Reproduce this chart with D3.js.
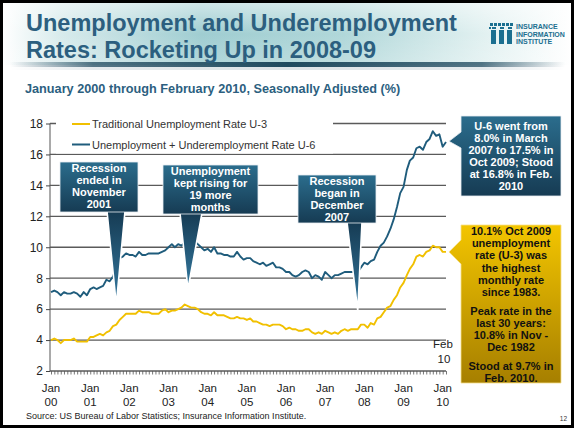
<!DOCTYPE html>
<html>
<head>
<meta charset="utf-8">
<script src="https://cdn.jsdelivr.net/npm/d3@7"></script>
<style>
  body { margin: 0; background: #fff; }
  svg { display: block; font-family: "Liberation Sans", Arial, sans-serif; }
</style>
</head>
<body>
<svg id="chart" width="576" height="430"></svg>
<script>
// monthly rates, Jan 2000 .. Feb 2010 (%)
const u3 = [
  4.0,4.1,4.0,3.8,4.0,4.0,4.0,4.1,3.9,3.9,3.9,3.9,
  4.2,4.2,4.3,4.4,4.3,4.5,4.6,4.9,5.0,5.3,5.5,5.7,
  5.7,5.7,5.7,5.9,5.8,5.8,5.8,5.7,5.7,5.7,5.9,6.0,
  5.8,5.9,5.9,6.0,6.1,6.3,6.2,6.1,6.1,6.0,5.8,5.7,
  5.7,5.6,5.8,5.6,5.6,5.6,5.5,5.4,5.4,5.5,5.4,5.4,
  5.3,5.4,5.2,5.2,5.1,5.0,5.0,4.9,5.0,5.0,5.0,4.9,
  4.7,4.8,4.7,4.7,4.6,4.6,4.7,4.7,4.5,4.4,4.5,4.4,
  4.6,4.5,4.4,4.5,4.4,4.6,4.7,4.6,4.7,4.7,4.7,5.0,
  5.0,4.8,5.1,5.0,5.4,5.5,5.8,6.1,6.2,6.6,6.9,7.4,
  7.7,8.2,8.6,8.9,9.4,9.5,9.4,9.7,9.8,10.1,10.0,10.0,
  9.7,9.7
];
const u6 = [
  7.1,7.2,7.1,6.9,7.1,7.0,7.0,7.1,7.0,6.8,7.1,6.9,
  7.3,7.4,7.3,7.4,7.5,7.9,7.8,8.1,8.7,9.3,9.4,9.6,
  9.5,9.5,9.4,9.7,9.5,9.5,9.6,9.6,9.6,9.6,9.7,9.8,
  10.0,10.2,10.0,10.2,10.1,10.3,10.3,10.1,10.4,10.2,10.0,9.8,
  9.9,9.7,10.0,9.6,9.6,9.5,9.5,9.4,9.4,9.7,9.4,9.2,
  9.3,9.3,9.1,9.0,8.9,9.0,8.8,8.9,9.0,8.7,8.7,8.6,
  8.4,8.4,8.2,8.1,8.2,8.4,8.5,8.4,8.0,8.2,8.1,7.9,
  8.4,8.2,8.0,8.2,8.2,8.3,8.4,8.4,8.4,8.4,8.4,8.7,
  9.0,8.9,9.1,9.2,9.7,10.1,10.3,10.7,11.2,11.8,12.6,13.5,
  13.9,15.0,15.6,15.8,16.4,16.5,16.3,16.8,17.0,17.5,17.2,17.3,
  16.5,16.8
];
const yearLabels = ["00","01","02","03","04","05","06","07","08","09","10"];
const yTicks = [2,4,6,8,10,12,14,16,18];
const seriesNames = ["Traditional Unemployment Rate U-3", "Unemployment + Underemployment Rate U-6"];

// callout texts, with the month index / value the pointer aims at
const downNotes = [
  ["Recession","ended in","November","2001"],
  ["Unemployment","kept rising for","19 more","months"],
  ["Recession","began in","December","2007"]
];
const downTips = [[20, 6.3], [42, 7.3], [94, 5.9]];
const u6Note = ["U-6 went from","8.0% in March","2007 to 17.5% in","Oct 2009; Stood","at 16.8% in Feb.","2010"];
const u3Note = [["10.1% Oct 2009","unemployment","rate (U-3) was","the highest","monthly rate","since 1983."],
                ["Peak rate in the","last 30 years:","10.8% in Nov -","Dec 1982"],
                ["Stood at 9.7% in","Feb. 2010."]];

const months = d3.timeMonth.range(new Date(2000, 0, 1), new Date(2010, 2, 1));

const svg = d3.select("#chart");
const defs = svg.append("defs");

function grad(id, stops, vertical) {
  let g = defs.append("linearGradient").attr("id", id)
    .attr("x1", 0).attr("y1", 0).attr("x2", vertical ? 0 : 1).attr("y2", vertical ? 1 : 0);
  stops.forEach(s => g.append("stop").attr("offset", s[0]).attr("stop-color", s[1]).attr("stop-opacity", s[2] == null ? 1 : s[2]));
}
grad("hdr", [[0,"#ffffff"],[0.1,"#d8ebec"],[0.35,"#9fcdd1"],[0.6,"#b0d7d9"],[0.85,"#e2f1f1"],[1,"#ffffff"]]);
grad("hdrV", [[0,"#ffffff",0.5],[0.5,"#ffffff",0],[1,"#ffffff",0.2]], true);
grad("hdrLine", [[0,"#2b5468",0],[0.15,"#2b5468",0.8],[0.5,"#1f4a5e",1],[0.85,"#2b5468",0.8],[1,"#2b5468",0]]);
grad("boxBlue", [[0,"#2b6d8d"],[1,"#163b53"]], true);
grad("ptrBlue", [[0,"#163b53"],[1,"#3479a0"]], true);
grad("boxGold", [[0,"#f3c500"],[1,"#a67f00"]], true);

// header
svg.append("rect").attr("x", 3).attr("y", 3).attr("width", 568).attr("height", 62).attr("fill", "url(#hdr)");
svg.append("rect").attr("x", 3).attr("y", 3).attr("width", 568).attr("height", 62).attr("fill", "url(#hdrV)");
svg.append("rect").attr("x", 10).attr("y", 62).attr("width", 555).attr("height", 5).attr("fill", "url(#hdrLine)");
svg.append("rect").attr("x", 10).attr("y", 67).attr("width", 555).attr("height", 3).attr("fill", "url(#hdrLine)").attr("opacity", 0.15);

const titleLines = ["Unemployment and Underemployment", "Rates: Rocketing Up in 2008-09"];
titleLines.forEach(function (s, i) {
  svg.append("text").attr("x", 26).attr("y", 31 + i * 26.5).attr("fill", "#2c5f7f")
    .attr("font-weight", "bold").attr("font-size", 23.5).text(s);
});

svg.append("text").attr("x", 25).attr("y", 93).attr("fill", "#2c5f7f")
  .attr("font-weight", "bold").attr("font-size", 12.7)
  .text("January 2000 through February 2010, Seasonally Adjusted (%)");

// logo
const logo = svg.append("g").attr("fill", "#1b6f90");
[490, 498, 506].forEach(function (lx) {
  logo.append("rect").attr("x", lx + 1).attr("y", 30).attr("width", 5).attr("height", 14);
  logo.append("rect").attr("x", lx).attr("y", 23).attr("width", 3).attr("height", 3);
  logo.append("rect").attr("x", lx + 4).attr("y", 23).attr("width", 3).attr("height", 3);
  logo.append("rect").attr("x", lx + 2).attr("y", 27).attr("width", 4).attr("height", 2);
});
logo.append("rect").attr("x", 489).attr("y", 27).attr("width", 2).attr("height", 2);
["INSURANCE","INFORMATION","INSTITUTE"].forEach(function (t, i) {
  logo.append("text").attr("x", 516).attr("y", 29 + i * 7.5)
    .attr("font-size", 7).attr("font-weight", "bold").text(t);
});

// chart
const x = d3.scaleTime().domain([months[0], months[months.length - 1]]).range([51, 446]);
const y = d3.scaleLinear().domain([2, 18]).range([371, 123.5]);

svg.append("g").selectAll("line").data(yTicks).enter().append("line")
  .attr("x1", 50).attr("x2", 446)
  .attr("y1", d => y(d)).attr("y2", d => y(d))
  .attr("stroke", "#5a5a5a").attr("stroke-width", 1.3);

// legend box hides the top grid lines
svg.append("rect").attr("x", 56).attr("y", 113).attr("width", 277).attr("height", 40.5).attr("fill", "#fff");

const yAxis = svg.append("g").attr("transform", "translate(50,0)")
  .call(d3.axisLeft(y).tickValues(yTicks).tickSize(4).tickFormat(d3.format("d")));
yAxis.select(".domain").attr("stroke", "#555").attr("d", "M0," + y(18) + "V" + y(2));
yAxis.selectAll(".tick line").attr("stroke", "#444");
yAxis.selectAll(".tick text").attr("font-size", 12).attr("fill", "#222")
  .attr("font-family", "Liberation Sans, Arial, sans-serif").attr("x", -7);

const xAxis = svg.append("g").attr("transform", "translate(0," + y(2) + ")")
  .call(d3.axisBottom(x).tickValues(months).tickSize(3.5).tickFormat(""));
xAxis.select(".domain").remove();
xAxis.selectAll(".tick line").attr("stroke", "#555").attr("stroke-width", 0.8);

const janTicks = months.filter(d => d.getMonth() === 0);
const xl = svg.append("g").attr("font-size", 11.5).attr("fill", "#222").attr("text-anchor", "middle");
xl.selectAll("text.m").data(janTicks).enter().append("text").attr("class", "m")
  .attr("x", d => x(d)).attr("y", 392).text("Jan");
xl.selectAll("text.yr").data(janTicks).enter().append("text").attr("class", "yr")
  .attr("x", d => x(d)).attr("y", 406).text((d, i) => yearLabels[i]);
const lastM = months[months.length - 1];
xl.append("text").attr("x", x(lastM) - 3).attr("y", 348).text("Feb");
xl.append("text").attr("x", x(lastM) - 2).attr("y", 363).text("10");

// lines
const line = d3.line().x((d, i) => x(months[i])).y(d => y(d));
svg.append("path").datum(u3).attr("d", line).attr("fill", "none")
  .attr("stroke", "#f1c000").attr("stroke-width", 1.9).attr("stroke-linejoin", "round");
svg.append("path").datum(u6).attr("d", line).attr("fill", "none")
  .attr("stroke", "#1f5c7c").attr("stroke-width", 1.9).attr("stroke-linejoin", "round");

// legend
const legColors = ["#f1c000", "#1f5c7c"];
seriesNames.forEach(function (name, i) {
  let ly = 124 + i * 20.5;
  svg.append("line").attr("x1", 72).attr("x2", 90).attr("y1", ly).attr("y2", ly)
    .attr("stroke", legColors[i]).attr("stroke-width", 2);
  svg.append("text").attr("x", 92).attr("y", ly + 4).attr("font-size", 11).attr("fill", "#333").text(name);
});

// down-pointing callouts: box [x0, y0, x1, y1], pointer base [bx0, bx1]
const downBoxes = [[60, 162, 138, 212, 107, 125], [163, 165, 258, 214, 180, 202], [298, 175, 376, 223, 347, 362]];
downNotes.forEach(function (lines, k) {
  let b = downBoxes[k], tx = x(months[downTips[k][0]]), ty = y(downTips[k][1]);
  svg.append("path")
    .attr("d", "M" + b[4] + "," + (b[3] - 1) + "L" + tx + "," + ty + "L" + b[5] + "," + (b[3] - 1) + "Z")
    .attr("fill", "url(#ptrBlue)").attr("stroke", "#fff").attr("stroke-width", 1.6);
  svg.append("rect").attr("x", b[0]).attr("y", b[1]).attr("width", b[2] - b[0]).attr("height", b[3] - b[1])
    .attr("fill", "url(#boxBlue)").attr("stroke", "#e8eef2").attr("stroke-width", 0.8);
  let t = svg.append("text").attr("text-anchor", "middle").attr("fill", "#fff")
    .attr("font-weight", "bold").attr("font-size", 11);
  lines.forEach((s, j) => t.append("tspan").attr("x", (b[0] + b[2]) / 2).attr("y", b[1] + 10 + j * 12).text(s));
});

// right-hand callouts pointing left
function sideBox(x0, y0, x1, y1, by0, by1, tip, fill, stroke) {
  let tx = x(months[tip[0]]) + 3, ty = y(tip[1]);
  svg.append("path")
    .attr("d", "M" + x0 + "," + y0 + "H" + x1 + "V" + y1 + "H" + x0 + "V" + by1 + "L" + tx + "," + ty + "L" + x0 + "," + by0 + "Z")
    .attr("fill", fill).attr("stroke", stroke).attr("stroke-width", 0.8);
}
sideBox(461, 116, 561, 196, 132, 148, [121, 16.85], "url(#boxBlue)", "#e8eef2");
let t6 = svg.append("text").attr("text-anchor", "middle").attr("fill", "#fff").attr("font-weight", "bold").attr("font-size", 11);
u6Note.forEach((s, j) => t6.append("tspan").attr("x", 511).attr("y", 130 + j * 12).text(s));

sideBox(461, 225, 561, 383, 240, 264, [121, 9.7], "url(#boxGold)", "#f6e08a");
let t3 = svg.append("text").attr("text-anchor", "middle").attr("fill", "#111").attr("font-weight", "bold").attr("font-size", 11);
let gy = 235;
u3Note.forEach(function (block) {
  block.forEach(function (s) {
    t3.append("tspan").attr("x", 511).attr("y", gy).text(s);
    gy += 12.2;
  });
  gy += 6.5;
});

// footer
svg.append("text").attr("x", 26).attr("y", 419).attr("font-size", 9).attr("fill", "#222")
  .text("Source: US Bureau of Labor Statistics; Insurance Information Institute.");
svg.append("text").attr("x", 567).attr("y", 421).attr("text-anchor", "end")
  .attr("font-size", 6.5).attr("fill", "#333").text("12");

// slide frame
svg.append("rect").attr("x", 1.5).attr("y", 1.5).attr("width", 571).attr("height", 425)
  .attr("fill", "none").attr("stroke", "#000").attr("stroke-width", 3);
</script>
</body>
</html>
